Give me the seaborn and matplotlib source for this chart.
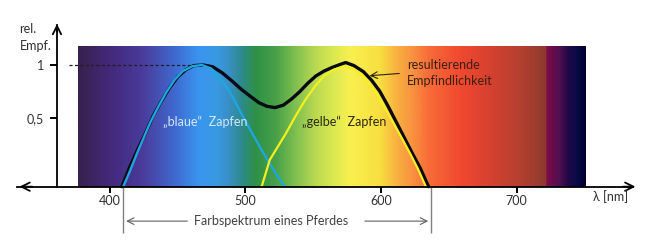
import numpy as np
import pandas as pd
import matplotlib
matplotlib.use("Agg")
import matplotlib.pyplot as plt
import seaborn as sns
from matplotlib.colors import LinearSegmentedColormap

# ---- data ----
blue_nm = [410, 415, 420, 425, 430, 436, 442, 448, 454, 461, 468, 475, 483, 490, 498, 505, 512, 518, 524, 529]
blue_val = [0.0, 0.13, 0.27, 0.40, 0.53, 0.66, 0.78, 0.88, 0.95, 0.99, 1.0, 0.97, 0.87, 0.75, 0.58, 0.44, 0.30, 0.19, 0.08, 0.0]

yellow_nm = [512, 518, 524, 530, 537, 544, 551, 558, 565, 573, 580, 586, 592, 598, 604, 610, 616, 622, 627, 633]
yellow_val = [0.0, 0.22, 0.33, 0.44, 0.58, 0.71, 0.82, 0.91, 0.96, 0.99, 0.965, 0.915, 0.84, 0.745, 0.625, 0.505, 0.385, 0.26, 0.15, 0.0]

total_nm = [409, 414, 420, 426, 432, 438, 444, 450, 456, 462, 469, 476, 483, 490, 497, 504, 510, 516, 522,
            528, 534, 540, 546, 552, 558, 564, 570, 574, 580, 587, 593, 599, 605, 611, 617, 623, 629, 635]
total_val = [0.0, 0.14, 0.29, 0.43, 0.58, 0.70, 0.81, 0.90, 0.96, 0.995, 1.0, 0.985, 0.935, 0.87, 0.80, 0.74, 0.69, 0.66, 0.65,
             0.67, 0.72, 0.78, 0.85, 0.91, 0.95, 0.98, 1.005, 1.02, 0.995, 0.945, 0.875, 0.785, 0.665, 0.535, 0.405, 0.275, 0.15, 0.0]

x_ticks = [400, 500, 600, 700]
x_tick_labels = ["400", "500", "600", "700"]
y_ticks = [0.562, 1.0]
y_tick_labels = ["0,5", "1"]

spectrum_nm = [376.7, 399, 424, 448, 465, 478, 487, 498, 507, 522, 537, 551, 564, 577, 599, 612, 624, 636,
               660, 685, 705, 722, 723, 732, 739, 745, 750.8]
spectrum_colors = ["#37214e", "#44287a", "#4a3c9c", "#3f6ad0", "#3a94f0", "#389ae2", "#3a8fc8", "#2c8a84",
                   "#2e9048", "#48a048", "#80c050", "#b8d850", "#d8e850", "#f8f050", "#f8e040", "#f8b040",
                   "#f89040", "#f86a38", "#f04830", "#d04030", "#b04030", "#8e3a2e", "#7c0a4a", "#501050",
                   "#200848", "#0a0a48", "#000030"]

# ---- styling ----
sns.set_theme(style="white")
plt.rcParams['font.family'] = ['Lato', 'DejaVu Sans']
FS = 9.0
TXT = "#303030"

fig = plt.figure(figsize=(6.5, 2.44), dpi=100)
ax = fig.add_axes([0, 0, 1, 1])
ax.set_facecolor("white")

# spectrum background
pos = [(n - spectrum_nm[0]) / (spectrum_nm[-1] - spectrum_nm[0]) for n in spectrum_nm]
cmap = LinearSegmentedColormap.from_list("spec", list(zip(pos, spectrum_colors)))
ax.imshow(np.linspace(0, 1, 1200)[None, :], extent=[spectrum_nm[0], spectrum_nm[-1], 0, 1.156],
          aspect='auto', cmap=cmap, zorder=0, interpolation='bilinear')

# dashed reference at 1
ax.hlines(1.0, 370.1, 466.6, colors="#202020", linestyles=(0, (2.5, 1.8)), linewidth=0.9, zorder=1)

# curves
df_t = pd.DataFrame({"nm": total_nm, "v": total_val})
df_b = pd.DataFrame({"nm": blue_nm, "v": blue_val})
df_y = pd.DataFrame({"nm": yellow_nm, "v": yellow_val})
sns.lineplot(data=df_t, x="nm", y="v", ax=ax, color="#0a0a14", linewidth=2.4, sort=False, estimator=None, zorder=2)
sns.lineplot(data=df_b, x="nm", y="v", ax=ax, color="#1ea6e0", linewidth=1.7, sort=False, estimator=None, zorder=3)
sns.lineplot(data=df_y, x="nm", y="v", ax=ax, color="#f4f020", linewidth=1.6, sort=False, estimator=None, zorder=3)

ax.set_xlim(319.2, 798.2)
ax.set_ylim(-0.471, 1.534)
ax.set_xlabel("")
ax.set_ylabel("")

# axes via spines
for s in ["top", "right"]:
    ax.spines[s].set_visible(False)
ax.spines["bottom"].set_position(("data", 0))
ax.spines["left"].set_position(("data", 361.2))
ax.spines["bottom"].set_bounds(332, 786)
ax.spines["left"].set_bounds(0, 1.33)
for s in ["bottom", "left"]:
    ax.spines[s].set_color("black")
    ax.spines[s].set_linewidth(1.3)
    ax.spines[s].set_zorder(4)

ax.set_xticks(x_ticks)
ax.set_xticklabels(x_tick_labels)
ax.set_yticks(y_ticks)
ax.set_yticklabels(y_tick_labels)
ax.tick_params(axis="x", direction="out", length=4.5, width=1.4, color="black", pad=1.5,
               labelsize=FS, labelcolor=TXT, bottom=True)
ax.tick_params(axis="y", direction="out", length=5, width=1.4, color="black", pad=4.5,
               labelsize=FS, labelcolor=TXT, left=True)

# arrowheads
ax.annotate("", xy=(331.5, 0), xytext=(345, 0),
            arrowprops=dict(arrowstyle="->,head_length=0.5,head_width=0.25", color="black", lw=1.3))
ax.annotate("", xy=(789.5, 0), xytext=(776, 0),
            arrowprops=dict(arrowstyle="->,head_length=0.5,head_width=0.25", color="black", lw=1.3))
ax.annotate("", xy=(361.2, 1.36), xytext=(361.2, 1.25),
            arrowprops=dict(arrowstyle="->,head_length=0.5,head_width=0.25", color="black", lw=1.3))

# texts
ax.text(333.6, 1.296, "rel.", fontsize=FS, color=TXT, ha="left", va="center")
ax.text(333.6, 1.159, "Empf.", fontsize=FS, color=TXT, ha="left", va="center")
ax.text(756, -0.085, "λ [nm]", fontsize=FS, color=TXT, ha="left", va="center")
ax.text(439.6, 0.534, "„blaue“  Zapfen", fontsize=FS, color="#d4e8fa", ha="left", va="center", zorder=5)
ax.text(541.6, 0.534, "„gelbe“  Zapfen", fontsize=FS, color="#2a2a18", ha="left", va="center", zorder=5)
ax.text(618.9, 1.0, "resultierende", fontsize=FS, color="#3a2010", ha="left", va="center", zorder=5)
ax.text(618.9, 0.868, "Empfindlichkeit", fontsize=FS, color="#3a2010", ha="left", va="center", zorder=5)
ax.annotate("", xy=(589.5, 0.91), xytext=(615.5, 0.932),
            arrowprops=dict(arrowstyle="->,head_length=0.4,head_width=0.2", color="#302010", lw=0.8), zorder=5)

# bracket: colour range of a horse
ax.vlines([410.1, 636.8], -0.38, 0, colors="#808080", linewidth=1.0, zorder=1)
ax.annotate("", xy=(410.1, -0.283), xytext=(459.3, -0.283),
            arrowprops=dict(arrowstyle="->,head_length=0.4,head_width=0.2", color="#606060", lw=0.8))
ax.annotate("", xy=(636.8, -0.283), xytext=(586, -0.283),
            arrowprops=dict(arrowstyle="->,head_length=0.4,head_width=0.2", color="#606060", lw=0.8))
ax.text(519, -0.283, "Farbspektrum eines Pferdes", fontsize=FS, color="#404040", ha="center", va="center")

fig.savefig("out.png", dpi=100)
